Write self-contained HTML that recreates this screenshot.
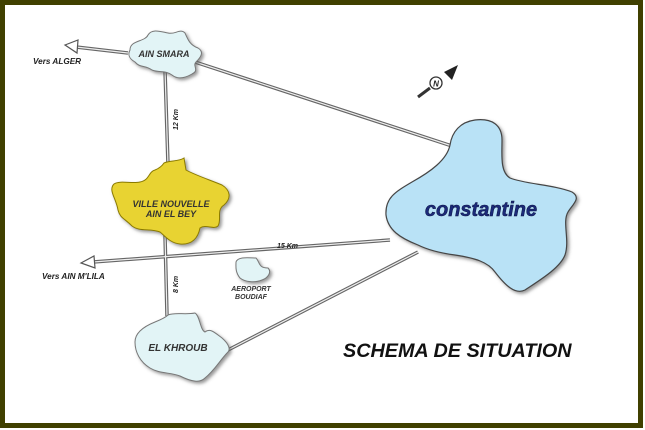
<!DOCTYPE html>
<html><head><meta charset="utf-8"><style>
html,body{margin:0;padding:0;background:#fff}
svg{display:block}
text{font-family:"Liberation Sans",sans-serif;font-weight:bold;font-style:italic}
</style></head><body>
<svg width="645" height="430" viewBox="0 0 645 430" xmlns="http://www.w3.org/2000/svg">
<defs>
<filter id="sh" x="-20%" y="-20%" width="140%" height="140%"><feDropShadow dx="2" dy="2" stdDeviation="1.5" flood-color="#555" flood-opacity="0.6"/></filter>
</defs>
<rect x="0" y="0" width="645" height="430" fill="#fff"/>
<rect x="2.5" y="2.5" width="638" height="423" fill="none" stroke="#404000" stroke-width="5"/>
<g stroke="#666" stroke-width="3.5" fill="none">
<line x1="195" y1="62" x2="452" y2="146"/>
<line x1="128" y1="53" x2="76" y2="47"/>
<line x1="165" y1="70" x2="168" y2="165"/>
<line x1="165" y1="235" x2="167" y2="316"/>
<line x1="390" y1="240" x2="93" y2="262"/>
<line x1="228" y1="350" x2="418" y2="252"/>
</g>
<g stroke="#eee" stroke-width="1.2" fill="none">
<line x1="195" y1="62" x2="452" y2="146"/>
<line x1="128" y1="53" x2="76" y2="47"/>
<line x1="165" y1="70" x2="168" y2="165"/>
<line x1="165" y1="235" x2="167" y2="316"/>
<line x1="390" y1="240" x2="93" y2="262"/>
<line x1="228" y1="350" x2="418" y2="252"/>
</g>
<polygon points="65,45 78,40 77,53" fill="#fff" stroke="#555" stroke-width="1.2"/>
<polygon points="81,263 94,256 95,268" fill="#fff" stroke="#555" stroke-width="1.2"/>
<path d="M130,50 C130,40 145,42 148,35 C152,28 162,32 168,33 C175,35 180,28 185,33 C188,40 190,45 198,48 C205,52 200,58 196,62 C192,66 200,70 192,74 C185,78 178,80 172,75 C165,70 160,73 152,70 C145,65 140,68 135,62 C128,58 128,54 130,50 Z" fill="#e2f4f6" stroke="#777" stroke-width="1" filter="url(#sh)"/>
<text x="164" y="57" font-size="9" fill="#333" text-anchor="middle">AIN SMARA</text>
<text x="33" y="64" font-size="8.2" fill="#222">Vers ALGER</text>
<path d="M164,163 C170,160 178,162 184,158 L186,170 C195,175 210,180 222,185 C230,190 232,198 224,205 C216,210 222,220 218,226 C214,230 206,224 200,228 C198,238 192,245 180,244 C170,243 165,236 160,232 C150,228 140,232 132,226 C124,218 120,218 118,210 C116,198 108,190 114,184 C120,180 132,184 140,182 C150,180 148,172 155,170 C160,168 162,166 164,163 Z" fill="#e8d330" stroke="#8a7a00" stroke-width="1" filter="url(#sh)"/>
<text x="171" y="207" font-size="9" fill="#333" text-anchor="middle">VILLE NOUVELLE</text>
<text x="171" y="217" font-size="9" fill="#333" text-anchor="middle">AIN EL BEY</text>
<text x="0" y="0" font-size="7" fill="#222" font-style="normal" transform="translate(178,130) rotate(-90)">12 Km</text>
<text x="0" y="0" font-size="7" fill="#222" font-style="normal" transform="translate(178,293) rotate(-90)">8 Km</text>
<text x="277" y="248" font-size="7" fill="#222" font-style="normal">15 Km</text>
<text x="42" y="279" font-size="8.2" fill="#222">Vers AIN M'LILA</text>
<path d="M236,262 C238,256 250,258 256,258 C260,262 258,268 268,268 C272,272 268,278 262,280 C255,283 245,282 240,278 C235,272 236,266 236,262 Z" fill="#e2f4f6" stroke="#777" stroke-width="1" filter="url(#sh)"/>
<text x="251" y="291" font-size="7" fill="#333" text-anchor="middle">AEROPORT</text>
<text x="251" y="299" font-size="7" fill="#333" text-anchor="middle">BOUDIAF</text>
<path d="M168,315 C175,312 185,315 195,313 C200,316 200,330 205,332 C210,328 214,332 222,338 C230,345 230,350 228,352 C220,360 215,370 205,378 C200,383 192,382 180,376 C170,372 160,374 150,368 C140,362 135,352 135,342 C135,332 145,326 155,322 C160,320 165,318 168,315 Z" fill="#e2f4f6" stroke="#777" stroke-width="1" filter="url(#sh)"/>
<text x="178" y="351" font-size="10" fill="#333" text-anchor="middle">EL KHROUB</text>
<path d="M450,145 C452,132 460,122 475,120 C492,118 502,125 502,140 C502,155 500,172 510,178 C525,184 555,185 572,192 C582,198 572,205 568,212 C562,222 570,240 565,255 C560,268 540,280 525,290 C515,295 505,285 495,272 C488,262 475,258 455,255 C440,253 428,250 418,245 C400,238 388,230 386,215 C385,198 395,192 412,182 C430,172 447,160 450,145 Z" fill="#b9e2f6" stroke="#444" stroke-width="1.2" filter="url(#sh)"/>
<text x="481" y="216" font-size="20" fill="#1b2a7a" stroke="#0a1040" stroke-width="0.5" text-anchor="middle">constantine</text>
<line x1="418" y1="97" x2="430" y2="88" stroke="#333" stroke-width="3"/>
<circle cx="436" cy="83" r="6" fill="#fff" stroke="#333" stroke-width="1.3"/>
<text x="436" y="86.5" font-size="8" fill="#222" font-style="normal" text-anchor="middle">N</text>
<polygon points="458,65 444,72 452,80" fill="#222"/>
<text x="343" y="357" font-size="19.8" fill="#111">SCHEMA DE SITUATION</text>
</svg>
</body></html>
